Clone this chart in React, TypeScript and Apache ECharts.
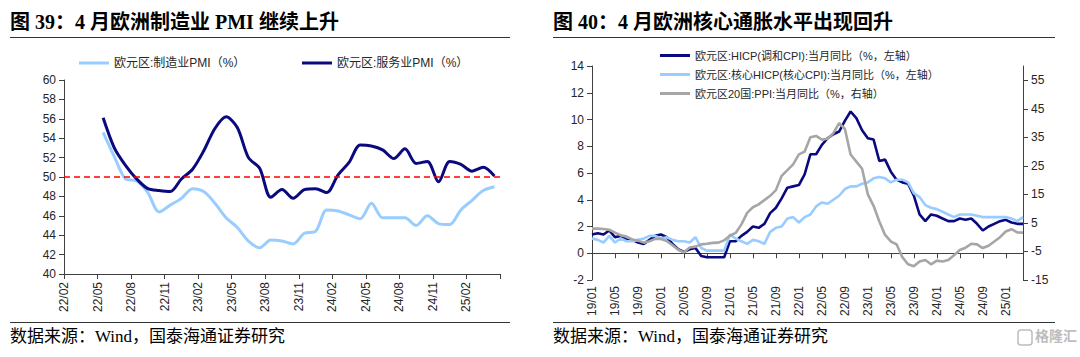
import React, { useEffect, useRef } from "react";
import * as echarts from "echarts";

// ---------- Left chart: Eurozone PMI ----------
const pmiTickLabels = [
  "22/02","22/03","22/04","22/05","22/06","22/07","22/08","22/09","22/10","22/11","22/12",
  "23/01","23/02","23/03","23/04","23/05","23/06","23/07","23/08","23/09","23/10","23/11","23/12",
  "24/01","24/02","24/03","24/04","24/05","24/06","24/07","24/08","24/09","24/10","24/11","24/12",
  "25/01","25/02","25/03","25/04","25/05",
];
const pmiMonths = [
  "22/02","22/03","22/04","22/05","22/06","22/07","22/08","22/09","22/10","22/11","22/12",
  "23/01","23/02","23/03","23/04","23/05","23/06","23/07","23/08","23/09","23/10","23/11","23/12",
  "24/01","24/02","24/03","24/04","24/05","24/06","24/07","24/08","24/09","24/10","24/11","24/12",
  "25/01","25/02","25/03","25/04",
];
const mfgPMI = [
  null, null, null,
  54.6, 52.1, 49.8, 49.6, 48.4, 46.4, 47.1, 47.8,
  48.8, 48.5, 47.3, 45.8, 44.8, 43.4, 42.7, 43.5, 43.4, 43.1, 44.2, 44.4,
  46.6, 46.5, 46.1, 45.7, 47.3, 45.8, 45.8, 45.8, 45.0, 46.0, 45.2, 45.1,
  46.6, 47.6, 48.6, 49.0,
];
const svcPMI = [
  null, null, null,
  56.1, 53.0, 51.2, 49.8, 48.8, 48.6, 48.5, 49.8,
  50.8, 52.7, 55.0, 56.2, 55.1, 52.0, 50.9, 47.9, 48.7, 47.8, 48.7, 48.8,
  48.4, 50.2, 51.5, 53.3, 53.2, 52.8, 51.9, 52.9, 51.4, 51.6, 49.5, 51.6,
  51.3, 50.6, 51.0, 50.1,
];
const pmiThreshold = 50;

// ---------- Right chart: Eurozone inflation ----------
const cpiMonths = [
  "19/01","19/02","19/03","19/04","19/05","19/06","19/07","19/08","19/09","19/10","19/11","19/12",
  "20/01","20/02","20/03","20/04","20/05","20/06","20/07","20/08","20/09","20/10","20/11","20/12",
  "21/01","21/02","21/03","21/04","21/05","21/06","21/07","21/08","21/09","21/10","21/11","21/12",
  "22/01","22/02","22/03","22/04","22/05","22/06","22/07","22/08","22/09","22/10","22/11","22/12",
  "23/01","23/02","23/03","23/04","23/05","23/06","23/07","23/08","23/09","23/10","23/11","23/12",
  "24/01","24/02","24/03","24/04","24/05","24/06","24/07","24/08","24/09","24/10","24/11","24/12",
  "25/01","25/02","25/03","25/04",
];
const hicp = [
  1.4, 1.5, 1.4, 1.7, 1.2, 1.3, 1.0, 1.0, 0.8, 0.7, 1.0, 1.3,
  1.4, 1.2, 0.7, 0.3, 0.1, 0.3, 0.4, -0.2, -0.3, -0.3, -0.3, -0.3,
  0.9, 0.9, 1.3, 1.6, 2.0, 1.9, 2.2, 3.0, 3.4, 4.1, 4.9, 5.0,
  5.1, 5.9, 7.4, 7.4, 8.1, 8.6, 8.9, 9.1, 9.9, 10.6, 10.1, 9.2,
  8.6, 8.5, 6.9, 7.0, 6.1, 5.5, 5.3, 5.2, 4.3, 2.9, 2.4, 2.9,
  2.8, 2.6, 2.4, 2.4, 2.6, 2.5, 2.6, 2.2, 1.7, 2.0, 2.2, 2.4,
  2.5, 2.3, 2.2, 2.2,
];
const coreHicp = [
  1.1, 1.0, 0.8, 1.3, 0.8, 1.1, 0.9, 0.9, 1.0, 1.1, 1.3, 1.3,
  1.1, 1.2, 1.0, 0.9, 0.9, 0.8, 1.2, 0.4, 0.2, 0.2, 0.2, 0.2,
  1.4, 1.1, 0.9, 0.7, 1.0, 0.9, 0.7, 1.6, 1.9, 2.0, 2.6, 2.7,
  2.3, 2.7, 2.9, 3.5, 3.8, 3.7, 4.0, 4.3, 4.8, 5.0, 5.0, 5.2,
  5.3, 5.6, 5.7, 5.6, 5.3, 5.5, 5.5, 5.3, 4.5, 4.2, 3.6, 3.4,
  3.3, 3.1, 2.9, 2.7, 2.9, 2.9, 2.9, 2.8, 2.7, 2.7, 2.7, 2.7,
  2.7, 2.6, 2.4, 2.7,
];
const ppi = [
  3.0, 3.0, 2.9, 2.6, 1.6, 0.7, 0.2, -0.8, -1.2, -1.9, -1.4, -0.6,
  -0.6, -1.3, -2.8, -4.4, -5.3, -3.6, -3.3, -2.5, -2.3, -2.0, -1.9, -1.1,
  0.5, 1.5, 4.5, 8.5, 10.5, 11.5, 13.0, 14.5, 16.5, 21.5, 23.5, 25.5,
  29.0, 30.0, 35.0, 35.5, 34.2, 34.5, 36.5, 40.0, 38.0, 29.0, 26.5, 24.0,
  15.0, 11.0, 5.5, 0.8, -1.5, -2.5, -7.0, -9.5, -10.2, -8.5, -8.0, -9.5,
  -8.2, -8.5, -8.0, -6.3, -4.5, -3.7, -2.3, -2.5, -3.8, -3.0, -1.5, 0.0,
  2.0, 2.8, 1.7, 1.6,
];

const NAMES = {
  mfg: "欧元区:制造业PMI（%）",
  svc: "欧元区:服务业PMI（%）",
  hicp: "欧元区:HICP(调和CPI):当月同比（%，左轴）",
  core: "欧元区:核心HICP(核心CPI):当月同比（%，左轴）",
  ppi: "欧元区20国:PPI:当月同比（%，右轴）",
};

const SANS = "'Liberation Sans', Arial, 'Noto Sans CJK SC', sans-serif";
const SERIF = "'Liberation Serif', 'Times New Roman', 'Noto Sans CJK SC', serif";
const DARK = "#0A0A7E";
const LIGHT = "#99CCFF";
const GRAY = "#A6A6A6";
const AXIS = "#404040";
const TXT = "#262626";

export default function App() {
  const ref = useRef<HTMLDivElement>(null);
  useEffect(() => {
    if (!ref.current) return;
    const chart = echarts.init(ref.current, null, { renderer: "svg" });
    const axisLabelBase = { color: TXT, fontSize: 12, fontFamily: SANS };
    const legendBase = {
      icon: "rect",
      itemWidth: 30,
      itemHeight: 3,
      itemGap: 10,
      textStyle: { color: TXT, fontSize: 12, fontFamily: SANS },
      selectedMode: false,
    };
    const option: any = {
      animation: false,
      backgroundColor: "#ffffff",
      grid: [
        { left: 64, top: 80, width: 436, height: 194, containLabel: false },
        { left: 592, top: 66, width: 431, height: 214, containLabel: false },
      ],
      legend: [
        { ...legendBase, data: [NAMES.mfg], left: 74, top: 52 },
        { ...legendBase, data: [NAMES.svc], left: 297, top: 52 },
        { ...legendBase, data: [NAMES.hicp], left: 655, top: 45, textStyle: { ...legendBase.textStyle, fontSize: 11 } },
        { ...legendBase, data: [NAMES.core], left: 655, top: 64, textStyle: { ...legendBase.textStyle, fontSize: 11 } },
        { ...legendBase, data: [NAMES.ppi], left: 655, top: 83, textStyle: { ...legendBase.textStyle, fontSize: 11 } },
      ],
      xAxis: [
        {
          type: "category", gridIndex: 0, data: pmiMonths, boundaryGap: true, show: false,
        },
        {
          type: "category", gridIndex: 0, data: pmiTickLabels, boundaryGap: false, position: "bottom",
          axisLine: { show: true, onZero: false, lineStyle: { color: AXIS, width: 1 } },
          axisTick: { show: true, interval: 2, length: 5, lineStyle: { color: AXIS } },
          axisLabel: {
            ...axisLabelBase, rotate: 90, margin: 8,
            interval: (i: number) => i % 3 === 0 && i < pmiTickLabels.length - 1,
          },
          splitLine: { show: false },
        },
        {
          type: "category", gridIndex: 1, data: cpiMonths, boundaryGap: false, position: "bottom",
          axisLine: { show: true, onZero: true, onZeroAxisIndex: 1, lineStyle: { color: AXIS, width: 1 } },
          axisTick: { show: true, interval: 3, length: 5, lineStyle: { color: AXIS } },
          axisLabel: { show: false },
          splitLine: { show: false },
        },
        {
          type: "category", gridIndex: 1, data: cpiMonths, boundaryGap: false, position: "bottom",
          axisLine: { show: false, onZero: false },
          axisTick: { show: false },
          axisLabel: { ...axisLabelBase, rotate: 90, margin: 6, interval: 3 },
          splitLine: { show: false },
        },
      ],
      yAxis: [
        {
          type: "value", gridIndex: 0, min: 40, max: 60, interval: 2,
          axisLine: { show: true, lineStyle: { color: AXIS } },
          axisTick: { show: true, length: 5, lineStyle: { color: AXIS } },
          axisLabel: { ...axisLabelBase, margin: 8 },
          splitLine: { show: false },
        },
        {
          type: "value", gridIndex: 1, position: "left", min: -2, max: 14, interval: 2,
          axisLine: { show: true, lineStyle: { color: AXIS } },
          axisTick: { show: true, length: 5, lineStyle: { color: AXIS } },
          axisLabel: { ...axisLabelBase, margin: 8 },
          splitLine: { show: false },
        },
        {
          type: "value", gridIndex: 1, position: "right", min: -15, max: 60, interval: 10,
          axisLine: { show: true, lineStyle: { color: AXIS } },
          axisTick: { show: true, length: 5, lineStyle: { color: AXIS } },
          axisLabel: { ...axisLabelBase, margin: 8, showMaxLabel: false },
          splitLine: { show: false },
        },
      ],
      series: [
        {
          name: NAMES.mfg, type: "line", xAxisIndex: 0, yAxisIndex: 0, data: mfgPMI,
          smooth: 0.3, symbol: "none", connectNulls: false,
          lineStyle: { width: 3, color: LIGHT }, itemStyle: { color: LIGHT },
        },
        {
          name: NAMES.svc, type: "line", xAxisIndex: 0, yAxisIndex: 0, data: svcPMI,
          smooth: 0.3, symbol: "none",
          lineStyle: { width: 3, color: DARK }, itemStyle: { color: DARK },
          markLine: {
            silent: true, symbol: "none", label: { show: false },
            lineStyle: { color: "#FF0000", type: [6, 4], width: 1.5 },
            data: [{ yAxis: pmiThreshold }],
          },
        },
        {
          name: NAMES.hicp, type: "line", xAxisIndex: 2, yAxisIndex: 1, data: hicp,
          symbol: "none", lineStyle: { width: 2.6, color: DARK }, itemStyle: { color: DARK },
        },
        {
          name: NAMES.core, type: "line", xAxisIndex: 2, yAxisIndex: 1, data: coreHicp,
          symbol: "none", lineStyle: { width: 2.6, color: LIGHT }, itemStyle: { color: LIGHT },
        },
        {
          name: NAMES.ppi, type: "line", xAxisIndex: 2, yAxisIndex: 2, data: ppi,
          symbol: "none", lineStyle: { width: 2.6, color: GRAY }, itemStyle: { color: GRAY },
        },
      ],
      graphic: [
        {
          type: "text", left: 10, top: 12,
          style: { text: "图 39：4 月欧洲制造业 PMI 继续上升", fill: "#000", font: `bold 20px ${SERIF}` },
        },
        {
          type: "text", left: 553, top: 12,
          style: { text: "图 40：4 月欧洲核心通胀水平出现回升", fill: "#000", font: `bold 20px ${SERIF}` },
        },
        { type: "line", shape: { x1: 10, y1: 37.5, x2: 510, y2: 37.5 }, style: { stroke: "#333", lineWidth: 1 } },
        { type: "line", shape: { x1: 553, y1: 37.5, x2: 1055, y2: 37.5 }, style: { stroke: "#333", lineWidth: 1 } },
        { type: "line", shape: { x1: 10, y1: 322.5, x2: 510, y2: 322.5 }, style: { stroke: "#333", lineWidth: 1 } },
        { type: "line", shape: { x1: 553, y1: 322.5, x2: 1055, y2: 322.5 }, style: { stroke: "#333", lineWidth: 1 } },
        {
          type: "text", left: 10, top: 328,
          style: { text: "数据来源：Wind，国泰海通证券研究", fill: "#000", font: `17px ${SERIF}` },
        },
        {
          type: "text", left: 553, top: 328,
          style: { text: "数据来源：Wind，国泰海通证券研究", fill: "#000", font: `17px ${SERIF}` },
        },
        {
          type: "rect", shape: { x: 1018, y: 330, width: 14, height: 15, r: 3 },
          style: { fill: "none", stroke: "#BDBDBD", lineWidth: 1.5 },
        },
        {
          type: "text", left: 1035, top: 329,
          style: { text: "格隆汇", fill: "#BDBDBD", font: `bold 14px ${SANS}` },
        },
      ],
    };
    chart.setOption(option);
    return () => chart.dispose();
  }, []);
  return (
    <div
      ref={ref}
      style={{ position: "absolute", left: 0, top: 0, width: 1080, height: 357, background: "#fff" }}
    />
  );
}
